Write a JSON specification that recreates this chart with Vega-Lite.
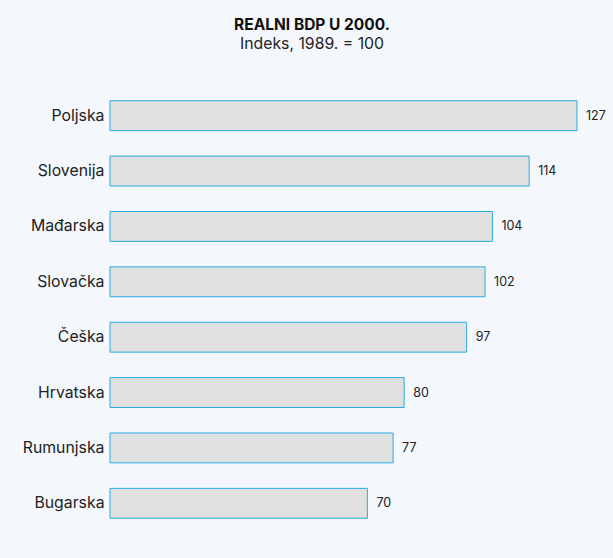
{
  "$schema": "https://vega.github.io/schema/vega-lite/v6.json",
  "autosize": "none",
  "width": 478,
  "height": 443,
  "padding": {"left": 110, "top": 88, "right": 25, "bottom": 27},
  "background": "#f4f8fc",
  "title": {
    "text": "REALNI BDP U 2000.",
    "subtitle": "Indeks, 1989. = 100",
    "font": "Inter",
    "subtitleFont": "Inter",
    "fontSize": 15.5,
    "subtitleFontSize": 15.8,
    "fontWeight": "bold",
    "color": "#111111",
    "subtitleColor": "#222222",
    "anchor": "middle",
    "dx": -37,
    "offset": 36,
    "subtitlePadding": 4
  },
  "data": {
    "values": [
      {"country": "Poljska", "value": 127},
      {"country": "Slovenija", "value": 114},
      {"country": "Mađarska", "value": 104},
      {"country": "Slovačka", "value": 102},
      {"country": "Češka", "value": 97},
      {"country": "Hrvatska", "value": 80},
      {"country": "Rumunjska", "value": 77},
      {"country": "Bugarska", "value": 70}
    ]
  },
  "encoding": {
    "y": {
      "field": "country",
      "type": "nominal",
      "sort": null,
      "scale": {"paddingInner": 0.46, "paddingOuter": 0.23},
      "axis": {
        "title": null,
        "domain": false,
        "ticks": false,
        "labelPadding": 6,
        "labelFont": "Inter",
        "labelFontSize": 15.8,
        "labelColor": "#222222"
      }
    },
    "x": {
      "field": "value",
      "type": "quantitative",
      "scale": {"domain": [0, 130]},
      "axis": null
    }
  },
  "layer": [
    {
      "mark": {"type": "bar", "fill": "#e0e0e0", "stroke": "#29abe2", "strokeWidth": 1}
    },
    {
      "mark": {"type": "text", "align": "left", "dx": 9, "font": "Inter", "fontSize": 12.5, "color": "#222222"},
      "encoding": {"text": {"field": "value", "type": "quantitative"}}
    }
  ],
  "config": {"view": {"stroke": null}}
}
